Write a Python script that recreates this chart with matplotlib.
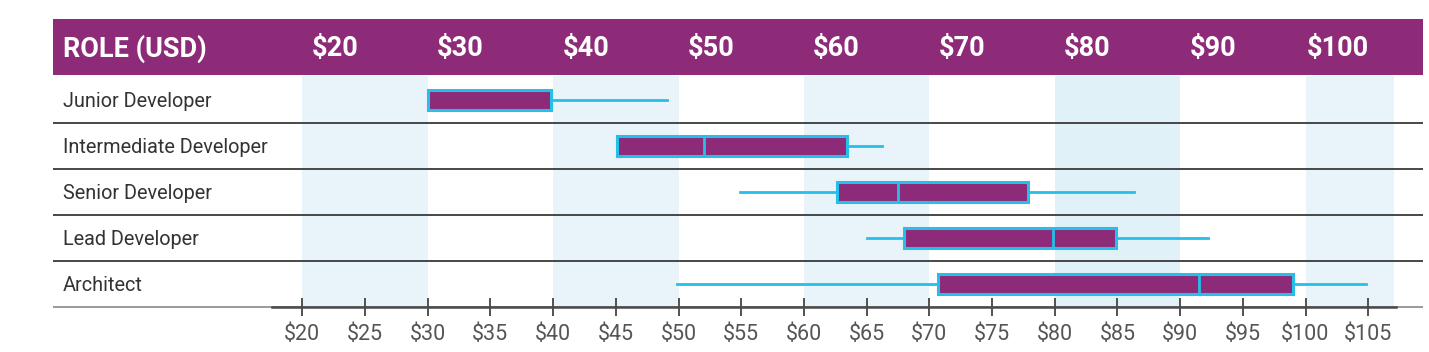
import matplotlib
matplotlib.use("Agg")
import matplotlib.pyplot as plt
from matplotlib.patches import Rectangle

plt.rcParams['font.family'] = ['Roboto', 'DejaVu Sans']

# ---- data ----
roles = ["Junior Developer", "Intermediate Developer", "Senior Developer",
         "Lead Developer", "Architect"]
whisker_low = [30.0, 45.1, 54.9, 65.0, 49.9]
q1 = [30.0, 45.1, 62.6, 68.0, 70.7]
median = [30.0, 52.0, 67.5, 79.9, 91.5]
q3 = [39.8, 63.4, 77.9, 84.9, 99.0]
whisker_high = [49.1, 66.2, 86.3, 92.2, 104.8]

header_values = [20, 30, 40, 50, 60, 70, 80, 90, 100]
tick_values = list(range(20, 106, 5))
tick_labels = [f"${v}" for v in tick_values]
band_starts = [20, 40, 60, 80, 100]
band_ends = [30, 50, 70, 90, 107.06]

# ---- style ----
PURPLE = "#8e2b79"
CYAN = "#25bfe9"
BAND = ["#e9f4fa", "#e9f4fa", "#e9f4fa", "#e1f1f8", "#e9f4fa"]
LINE = "#474747"

W, H = 1429, 352
fig = plt.figure(figsize=(W / 100, H / 100), dpi=100)
ax = fig.add_axes([0, 0, 1, 1])

# pixel -> data mapping used for layout
PX_PER_UNIT = 12.54
X20 = 302.3
def xpx(p):
    return 20 + (p - X20) / PX_PER_UNIT
ROW0 = 100.3
ROWH = 45.9
def ypx(p):
    return (p - ROW0) / ROWH

ax.set_xlim(xpx(0), xpx(W))
ax.set_ylim(ypx(H), ypx(0))

left = xpx(53)
right = xpx(1423)
head_top = ypx(19.3)
head_bot = ypx(75.5)
axis_y = len(roles) - 0.5

# shaded bands
for a, b, c in zip(band_starts, band_ends, BAND):
    ax.fill_betweenx([head_bot, axis_y], a, b, color=c, lw=0, zorder=0)

# header
ax.add_patch(Rectangle((left, head_top), right - left, head_bot - head_top,
                       facecolor=PURPLE, edgecolor="none", zorder=3))
hy = ypx(48.5)
ax.text(xpx(63), hy, "ROLE (USD)", color="white", fontsize=19.5,
        fontweight="bold", ha="left", va="center", zorder=4)
for v in header_values:
    ax.text(v + 2.6, hy, f"${v}", color="white", fontsize=19.5,
            fontweight="bold", ha="center", va="center", zorder=4)

# row separators
for i in range(len(roles) - 1):
    ax.plot([left, right], [i + 0.5, i + 0.5], color=LINE, lw=1.4, zorder=1,
            solid_capstyle="butt")
# light full-width baseline
ax.plot([left, right], [axis_y, axis_y], color="#9a9a9a", lw=1.4, zorder=1,
        solid_capstyle="butt")

# row labels
for i, r in enumerate(roles):
    ax.text(xpx(63), i + 0.03, r, color="#333333", fontsize=14.3, ha="left",
            va="center", zorder=4)

# box plots
stats = []
for i in range(len(roles)):
    stats.append(dict(label=roles[i], whislo=whisker_low[i], q1=q1[i],
                      med=median[i], q3=q3[i], whishi=whisker_high[i],
                      fliers=[]))
ax.bxp(stats, positions=list(range(len(roles))), widths=0.44,
       orientation="horizontal", patch_artist=True, showcaps=False,
       showfliers=False, manage_ticks=False,
       boxprops=dict(facecolor=PURPLE, edgecolor=CYAN, linewidth=2.2),
       whiskerprops=dict(color=CYAN, linewidth=2.0),
       medianprops=dict(color=CYAN, linewidth=2.0), zorder=2)

# bottom axis via spine
for s in ["top", "left", "right"]:
    ax.spines[s].set_visible(False)
ax.spines["bottom"].set_position(("data", axis_y))
ax.spines["bottom"].set_bounds(xpx(272), xpx(1396))
ax.spines["bottom"].set_color("#4a4a4a")
ax.spines["bottom"].set_linewidth(1.8)
ax.spines["bottom"].set_zorder(2)
ax.set_xticks(tick_values)
ax.set_xticklabels(tick_labels)
ax.tick_params(axis="x", direction="inout", length=13, width=1.3,
               colors="#444444", labelsize=15.5, pad=6, labelcolor="#555555")
ax.set_yticks([])
ax.patch.set_visible(False)

fig.savefig("out.png", dpi=100)
